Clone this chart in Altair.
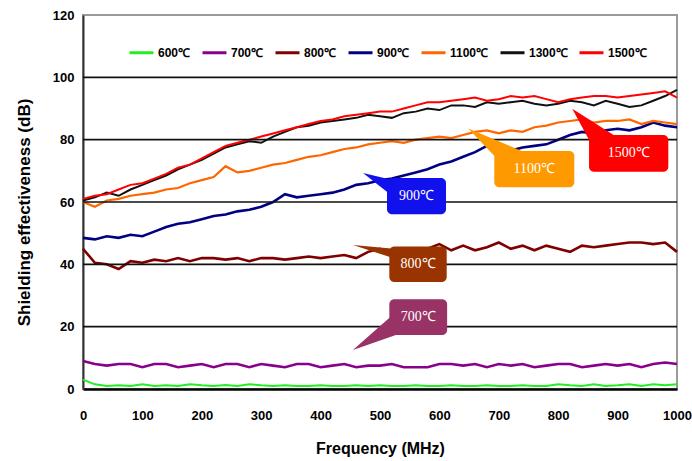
import altair as alt
import pandas as pd

# ---------------- data ----------------
FREQ = list(range(0, 1001, 20))  # MHz

SE_600 = [3.0, 1.5, 1.0, 1.2, 1.0, 1.5, 1.0, 1.2, 1.0, 1.5,
          1.2, 1.0, 1.3, 1.0, 1.5, 1.2, 1.0, 1.2, 1.0, 1.0,
          1.2, 1.0, 1.0, 1.2, 1.0, 1.2, 1.0, 1.0, 1.2, 1.0,
          1.0, 1.2, 1.0, 1.0, 1.2, 1.0, 1.0, 1.2, 1.0, 1.0,
          1.5, 1.2, 1.0, 1.5, 1.0, 1.2, 1.5, 1.0, 1.5, 1.2,
          1.5]
SE_700 = [9.0, 8.0, 7.5, 8.0, 8.0, 7.0, 8.0, 8.0, 7.0, 7.5,
          8.0, 7.0, 8.0, 8.0, 7.0, 8.0, 7.5, 7.0, 8.0, 8.0,
          7.0, 7.5, 8.0, 7.0, 7.5, 7.5, 8.0, 7.0, 7.0, 7.0,
          8.0, 8.0, 7.5, 8.0, 7.0, 8.0, 7.5, 8.0, 7.0, 7.5,
          8.0, 8.0, 7.0, 7.5, 8.0, 7.5, 8.0, 7.0, 8.0, 8.5,
          8.0]
SE_800 = [45.0, 40.5, 40.0, 38.5, 41.0, 40.5, 41.5, 41.0, 42.0, 41.0,
          42.0, 42.0, 41.5, 42.0, 41.0, 42.0, 42.0, 41.5, 42.0, 42.5,
          42.0, 42.5, 43.0, 42.0, 44.0, 45.0, 43.5, 44.5, 43.0, 45.0,
          46.5, 44.5, 46.0, 44.5, 45.5, 47.0, 45.0, 46.0, 44.5, 46.0,
          45.0, 44.0, 46.0, 45.5, 46.0, 46.5, 47.0, 47.0, 46.5, 47.0,
          44.0]
SE_900 = [48.5, 48.0, 49.0, 48.5, 49.5, 49.0, 50.5, 52.0, 53.0, 53.5,
          54.5, 55.5, 56.0, 57.0, 57.5, 58.5, 60.0, 62.5, 61.5, 62.0,
          62.5, 63.0, 64.0, 65.5, 66.0, 67.0, 67.5, 68.5, 69.5, 70.5,
          72.0, 73.0, 74.5, 76.0, 78.0, 77.0, 76.5, 77.5, 78.0, 78.5,
          80.0, 81.5, 82.5, 82.0, 83.0, 83.5, 83.0, 84.0, 85.5, 84.5,
          84.0]
SE_1100 = [60.0, 58.5, 60.5, 61.0, 62.0, 62.5, 63.0, 64.0, 64.5, 66.0,
           67.0, 68.0, 71.5, 69.5, 70.0, 71.0, 72.0, 72.5, 73.5, 74.5,
           75.0, 76.0, 77.0, 77.5, 78.5, 79.0, 79.5, 79.0, 80.0, 80.5,
           81.0, 80.5, 81.5, 82.5, 83.0, 82.0, 83.0, 82.5, 84.0, 84.5,
           85.5, 86.0, 86.5, 85.5, 86.0, 86.0, 86.5, 85.0, 86.0, 85.5,
           85.0]
SE_1300 = [60.5, 61.5, 63.0, 62.0, 64.0, 65.5, 67.0, 68.5, 70.5, 72.0,
           73.5, 75.5, 77.5, 78.5, 79.5, 79.0, 81.0, 82.5, 84.0, 84.5,
           85.5, 86.0, 86.5, 87.0, 88.0, 87.5, 87.0, 88.5, 89.0, 90.0,
           89.5, 91.0, 91.0, 90.5, 92.0, 91.5, 92.0, 92.5, 91.5, 91.0,
           91.5, 92.5, 92.0, 91.0, 92.5, 91.5, 90.5, 91.0, 92.5, 94.0,
           96.0]
SE_1500 = [61.0, 62.0, 62.5, 64.0, 65.5, 66.0, 67.5, 69.0, 71.0, 72.0,
           74.0, 76.0, 78.0, 79.0, 80.0, 81.0, 82.0, 83.0, 84.0, 85.0,
           86.0, 86.5, 87.5, 88.0, 88.5, 89.0, 89.0, 90.0, 91.0, 92.0,
           92.0, 92.5, 93.0, 93.5, 92.5, 93.0, 94.0, 93.5, 94.0, 93.0,
           92.0, 93.0, 93.5, 94.0, 94.0, 93.5, 94.0, 94.5, 95.0, 95.5,
           93.5]

SERIES = ["600℃", "700℃", "800℃", "900℃", "1100℃", "1300℃", "1500℃"]
VALUES = [SE_600, SE_700, SE_800, SE_900, SE_1100, SE_1300, SE_1500]
COLORS = ["#22EE22", "#8B008B", "#800000", "#000080", "#FF6600", "#111111", "#FF0000"]
WIDTHS = [2.0, 2.6, 2.6, 2.6, 2.2, 2.0, 2.0]

GRID = [20, 40, 60, 80, 100]
X_TICKS = list(range(0, 1001, 100))
Y_TICKS = list(range(0, 121, 20))

# callout boxes (data coordinates)
BOX_LABELS = ["900℃", "800℃", "700℃", "1100℃", "1500℃"]
BOX_COLORS = ["#1111EE", "#993300", "#993366", "#FF9900", "#FF0000"]
BOX_X0 = [511.8, 515.7, 515.7, 692.4, 851.9]
BOX_X1 = [611.1, 612.3, 613.0, 827.1, 985.4]
BOX_Y0 = [56.1, 34.3, 17.3, 64.7, 69.7]
BOX_Y1 = [67.7, 45.7, 28.8, 76.4, 81.5]

# pointers with vertical base: label, tip x, tip y, base x, base y low, base y high
PTR_V_LABEL = ["900℃", "800℃", "700℃"]
PTR_V_TIP_X = [471.4, 454.4, 454.4]
PTR_V_TIP_Y = [69.3, 46.2, 12.5]
PTR_V_BASE_X = [542.1, 541.7, 530.3]
PTR_V_BASE_Y0 = [58.7, 40.8, 17.6]
PTR_V_BASE_Y1 = [66.1, 44.7, 25.3]
# pointers with horizontal base
PTR_H_LABEL = ["1100℃", "1500℃"]
PTR_H_TIP_X = [648.6, 823.7]
PTR_H_TIP_Y = [83.6, 89.9]
PTR_H_BASE_Y = [71.9, 76.7]
PTR_H_BASE_X0 = [707.1, 861.1]
PTR_H_BASE_X1 = [794.6, 933.0]

# ---------------- tables (all layers share field names freq / se) ----------------
rows = []
for name, vals, w in zip(SERIES, VALUES, WIDTHS):
    for f, v in zip(FREQ, vals):
        rows.append({"freq": f, "se": v, "series": name, "w": w})
df = pd.DataFrame(rows)

color_of = dict(zip(BOX_LABELS, BOX_COLORS))
boxes = pd.DataFrame({
    "label": BOX_LABELS, "c": BOX_COLORS,
    "freq": BOX_X0, "freq2": BOX_X1, "se": BOX_Y0, "se2": BOX_Y1,
})
labels = pd.DataFrame({
    "label": BOX_LABELS,
    "freq": [(a + b) / 2 for a, b in zip(BOX_X0, BOX_X1)],
    "se": [(a + b) / 2 for a, b in zip(BOX_Y0, BOX_Y1)],
})

pv = []
for k, tx, ty, bx, by0, by1 in zip(PTR_V_LABEL, PTR_V_TIP_X, PTR_V_TIP_Y,
                                   PTR_V_BASE_X, PTR_V_BASE_Y0, PTR_V_BASE_Y1):
    pv.append({"k": k, "freq": tx, "se": ty, "se2": ty, "c": color_of[k]})
    pv.append({"k": k, "freq": bx, "se": by0, "se2": by1, "c": color_of[k]})
pv = pd.DataFrame(pv)

ph = []
for k, tx, ty, by, bx0, bx1 in zip(PTR_H_LABEL, PTR_H_TIP_X, PTR_H_TIP_Y,
                                   PTR_H_BASE_Y, PTR_H_BASE_X0, PTR_H_BASE_X1):
    ph.append({"k": k, "se": ty, "freq": tx, "freq2": tx, "c": color_of[k]})
    ph.append({"k": k, "se": by, "freq": bx0, "freq2": bx1, "c": color_of[k]})
ph = pd.DataFrame(ph)

xs = alt.Scale(domain=[0, 1000], nice=False, zero=False)
ys = alt.Scale(domain=[0, 120], nice=False)

FONT = "Liberation Sans"

X_AXIS = alt.Axis(values=X_TICKS, title="Frequency (MHz)", grid=False, format="d",
                  ticks=False, labelPadding=20, labelFlush=False,
                  labelFont=FONT, labelFontSize=13, labelFontWeight="bold",
                  labelColor="#000", domainColor="#000", domainWidth=2.5,
                  titleFont=FONT, titleFontSize=16, titleFontWeight="bold",
                  titleColor="#000", titleY=51, titleBaseline="top")
Y_AXIS = alt.Axis(values=Y_TICKS, title="Shielding effectiveness (dB)", format="d",
                  grid=False, ticks=False, labelPadding=9,
                  labelFont=FONT, labelFontSize=13, labelFontWeight="bold",
                  labelColor="#000", domainColor="#333", domainWidth=2,
                  titleFont=FONT, titleFontSize=17, titleFontWeight="bold",
                  titleColor="#000", titleX=-50, titleY=197)

lines = alt.Chart(df).mark_line(interpolate="linear").encode(
    x=alt.X("freq:Q", scale=xs, axis=X_AXIS),
    y=alt.Y("se:Q", scale=ys, axis=Y_AXIS),
    color=alt.Color("series:N", sort=SERIES,
                    scale=alt.Scale(domain=SERIES, range=COLORS),
                    legend=alt.Legend(title=None, orient="none", legendX=45, legendY=24,
                                      direction="horizontal", columns=7,
                                      symbolType="stroke", symbolSize=576,
                                      symbolStrokeWidth=3, labelOffset=3,
                                      columnPadding=5, labelFont=FONT,
                                      labelFontSize=12, labelFontWeight="bold",
                                      labelColor="#000")),
    strokeWidth=alt.StrokeWidth("w:Q", scale=None, legend=None),
    detail="series:N",
)

grid = alt.Chart(pd.DataFrame({"se": GRID})).mark_rule(
    color="#111111", strokeWidth=1.6
).encode(y=alt.Y("se:Q", scale=ys))

ptr_v = alt.Chart(pv).mark_area(strokeWidth=0, opacity=1).encode(
    x=alt.X("freq:Q", scale=xs),
    y=alt.Y("se:Q", scale=ys),
    y2="se2:Q",
    detail="k:N",
    fill=alt.Fill("c:N", scale=None),
)
ptr_h = alt.Chart(ph).mark_area(orient="horizontal", strokeWidth=0, opacity=1).encode(
    y=alt.Y("se:Q", scale=ys),
    x=alt.X("freq:Q", scale=xs),
    x2="freq2:Q",
    detail="k:N",
    fill=alt.Fill("c:N", scale=None),
)
rects = alt.Chart(boxes).mark_rect(cornerRadius=5).encode(
    x=alt.X("freq:Q", scale=xs), x2="freq2:Q",
    y=alt.Y("se:Q", scale=ys), y2="se2:Q",
    fill=alt.Fill("c:N", scale=None),
)
texts = alt.Chart(labels).mark_text(font="Liberation Serif", fontSize=14, color="white").encode(
    x=alt.X("freq:Q", scale=xs),
    y=alt.Y("se:Q", scale=ys),
    text="label:N",
)

chart = alt.layer(lines, grid, ptr_v, ptr_h, rects, texts).properties(
    width=594, height=374,
    autosize=alt.AutoSizeParams(type="none"),
    padding={"left": 83, "top": 15, "right": 15, "bottom": 72},
    background="white",
).configure_view(stroke="#9a9a9a", strokeWidth=2)

chart.save("out.html", embed_options={"renderer": "svg", "actions": False})
